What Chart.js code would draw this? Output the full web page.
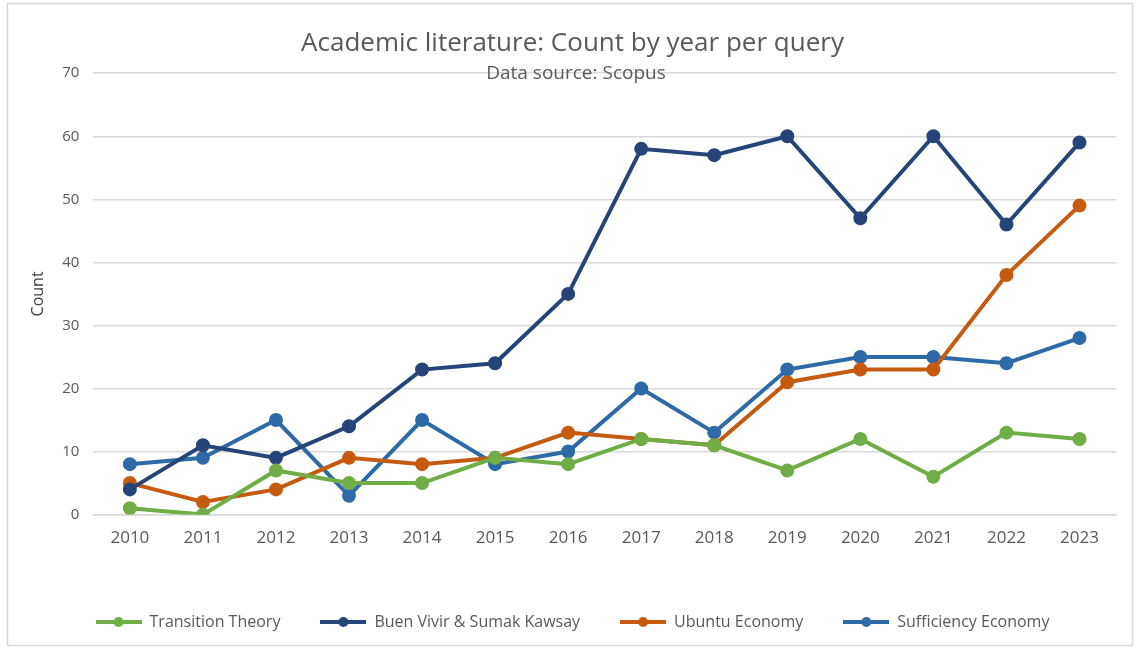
<!DOCTYPE html>
<html>
<head>
<meta charset="utf-8">
<script src="https://cdn.jsdelivr.net/npm/chart.js@4.4.1/dist/chart.umd.min.js"></script>
<style>
  html, body { margin: 0; padding: 0; background: #fff; }
  #litChart { display: block; }
</style>
</head>
<body>
<canvas id="litChart" width="1136" height="650"></canvas>
<script>
// == 데이터 == //
const YEARS = ['2010', '2011', '2012', '2013', '2014', '2015', '2016', '2017', '2018', '2019', '2020', '2021', '2022', '2023'];
const Y_TICKS = [0, 10, 20, 30, 40, 50, 60, 70];

const TRANSITION_THEORY = [1, 0, 7, 5, 5, 9, 8, 12, 11, 7, 12, 6, 13, 12];
const BUEN_VIVIR = [4, 11, 9, 14, 23, 24, 35, 58, 57, 60, 47, 60, 46, 59];
const UBUNTU_ECONOMY = [5, 2, 4, 9, 8, 9, 13, 12, 11, 21, 23, 23, 38, 49];
const SUFFICIENCY_ECONOMY = [8, 9, 15, 3, 15, 8, 10, 20, 13, 23, 25, 25, 24, 28];

const FONT = "'Open Sans', sans-serif";
const TEXT_GRAY = '#595959';

// 범례용 선 + 점 아이콘
function legendIcon(color) {
  const c = document.createElement('canvas');
  c.width = 46;
  c.height = 12;
  const ctx = c.getContext('2d');
  ctx.strokeStyle = color;
  ctx.lineWidth = 4;
  ctx.beginPath();
  ctx.moveTo(0, 6);
  ctx.lineTo(46, 6);
  ctx.stroke();
  ctx.fillStyle = color;
  ctx.beginPath();
  ctx.arc(23, 6, 5, 0, Math.PI * 2);
  ctx.fill();
  return c;
}

function series(label, data, color) {
  return {
    label: label,
    data: data,
    borderColor: color,
    backgroundColor: color,
    borderWidth: 4,
    pointRadius: 5,
    pointHoverRadius: 5,
    pointStyle: 'circle',
    tension: 0,
    icon: legendIcon(color)
  };
}

// 바깥 테두리와 부제목
const frameAndSubtitle = {
  id: 'frameAndSubtitle',
  beforeDraw(chart) {
    const ctx = chart.ctx;
    ctx.save();
    ctx.fillStyle = '#fff';
    ctx.fillRect(0, 0, chart.width, chart.height);
    ctx.strokeStyle = '#d9d9d9';
    ctx.lineWidth = 1.5;
    ctx.strokeRect(7.5, 3.5, chart.width - 11, chart.height - 8);
    ctx.restore();
  },
  afterDatasetsDraw(chart) {
    const ctx = chart.ctx;
    const area = chart.chartArea;
    ctx.save();
    ctx.font = '19px ' + FONT;
    ctx.fillStyle = TEXT_GRAY;
    ctx.textAlign = 'center';
    ctx.textBaseline = 'middle';
    ctx.fillText('Data source: Scopus', chart.width / 2 + 8, area.top);
    ctx.restore();
  }
};

new Chart(document.getElementById('litChart'), {
  type: 'line',
  data: {
    labels: YEARS,
    datasets: [
      series('Transition Theory', TRANSITION_THEORY, '#70ad47'),
      series('Buen Vivir & Sumak Kawsay', BUEN_VIVIR, '#264478'),
      series('Ubuntu Economy', UBUNTU_ECONOMY, '#c55a11'),
      series('Sufficiency Economy', SUFFICIENCY_ECONOMY, '#2e6aa6')
    ]
  },
  options: {
    responsive: false,
    animation: false,
    devicePixelRatio: 1,
    layout: {
      padding: { left: 29, right: 20, top: 28, bottom: 10 }
    },
    scales: {
      x: {
        offset: true,
        grid: { display: false },
        border: { color: '#d9d9d9', width: 1.5 },
        ticks: {
          color: TEXT_GRAY,
          font: { family: FONT, size: 17 },
          padding: 5,
          maxRotation: 0
        },
        // 눈금 글자와 범례 사이 여백
        afterFit(axis) {
          axis.height += 21;
        }
      },
      y: {
        min: 0,
        max: 70,
        afterBuildTicks(axis) {
          axis.ticks = Y_TICKS.map((v) => ({ value: v }));
        },
        grid: { color: '#d9d9d9', lineWidth: 1.5, drawTicks: false },
        border: { display: false },
        ticks: {
          color: TEXT_GRAY,
          font: { family: FONT, size: 15 },
          padding: 14
        },
        title: {
          display: true,
          text: 'Count',
          color: '#404040',
          font: { family: FONT, size: 16 },
          padding: { top: 0, bottom: 0 }
        }
      }
    },
    plugins: {
      title: {
        display: true,
        text: 'Academic literature: Count by year per query',
        color: TEXT_GRAY,
        font: { family: FONT, size: 26, weight: 'normal' },
        padding: { top: 0, bottom: 14 }
      },
      legend: {
        position: 'bottom',
        labels: {
          color: TEXT_GRAY,
          font: { family: FONT, size: 16 },
          usePointStyle: true,
          pointStyleWidth: 46,
          boxHeight: 12,
          padding: 40,
          generateLabels(chart) {
            return chart.data.datasets.map((ds, i) => ({
              text: ds.label,
              pointStyle: ds.icon,
              fillStyle: ds.borderColor,
              strokeStyle: ds.borderColor,
              lineWidth: 0,
              fontColor: TEXT_GRAY,
              hidden: false,
              datasetIndex: i
            }));
          }
        }
      },
      tooltip: { enabled: false }
    }
  },
  plugins: [frameAndSubtitle]
});
</script>
</body>
</html>
